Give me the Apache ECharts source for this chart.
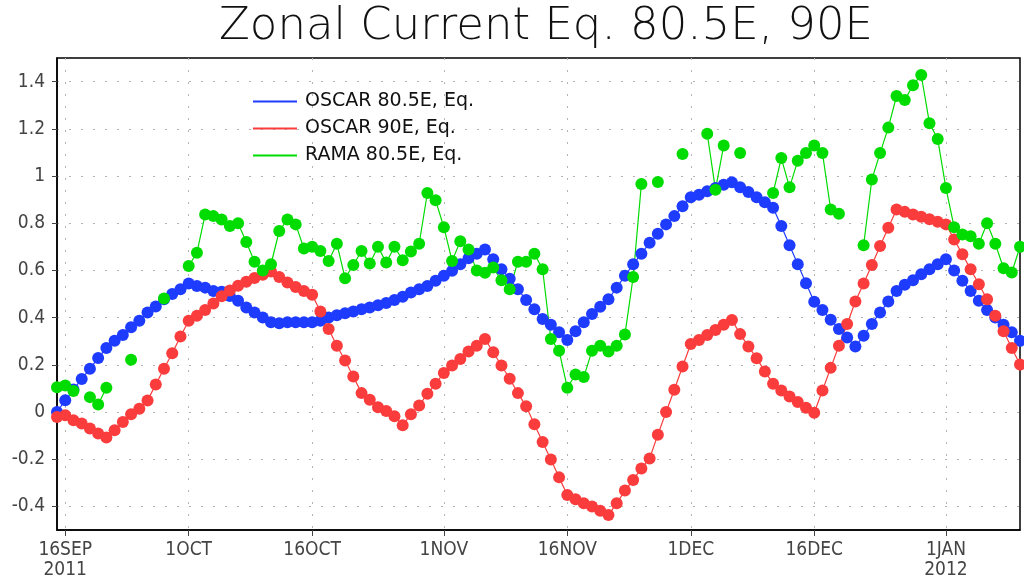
<!DOCTYPE html>
<html>
<head>
<meta charset="utf-8">
<script src="https://cdn.jsdelivr.net/npm/echarts@6/dist/echarts.min.js"></script>
<style>html,body{margin:0;padding:0;background:#fff}#c{width:1024px;height:580px}</style>
</head>
<body>
<div id="c"></div>
<script>
// Daily values, 15 SEP 2011 .. 10 JAN 2012 (118 days)
const startDate = [2011, 8, 15];
const nDays = 118;
const seriesNames = ['OSCAR 80.5E, Eq.', 'OSCAR 90E, Eq.', 'RAMA 80.5E, Eq.'];
const oscar805 = [
 0.0,0.05,0.095,0.14,0.183,0.229,0.271,0.302,0.326,0.359,
 0.387,0.422,0.447,0.478,0.50,0.52,0.544,0.534,0.527,0.513,
 0.51,0.492,0.471,0.443,0.422,0.40,0.38,0.376,0.38,0.38,
 0.38,0.38,0.387,0.40,0.41,0.418,0.426,0.435,0.443,0.452,
 0.462,0.475,0.488,0.506,0.52,0.534,0.556,0.577,0.598,0.626,
 0.651,0.671,0.689,0.647,0.605,0.565,0.52,0.475,0.435,0.394,
 0.37,0.338,0.305,0.342,0.38,0.415,0.446,0.478,0.527,0.577,
 0.626,0.671,0.717,0.755,0.795,0.83,0.872,0.91,0.921,0.935,
 0.949,0.963,0.973,0.952,0.932,0.91,0.889,0.865,0.788,0.707,
 0.626,0.546,0.467,0.432,0.391,0.352,0.316,0.278,0.323,0.373,
 0.422,0.468,0.513,0.539,0.558,0.584,0.605,0.626,0.647,0.60,
 0.556,0.513,0.471,0.432,0.40,0.37,0.338,0.302
];
const oscar90 = [
 -0.021,-0.014,-0.035,-0.049,-0.07,-0.091,-0.108,-0.077,-0.042,-0.01,
 0.014,0.049,0.117,0.183,0.249,0.32,0.387,0.408,0.432,0.46,
 0.49,0.515,0.535,0.552,0.568,0.582,0.595,0.572,0.549,0.53,
 0.513,0.497,0.426,0.352,0.281,0.218,0.15,0.08,0.052,0.02,
 0.004,-0.018,-0.056,-0.01,0.028,0.077,0.12,0.165,0.197,0.225,
 0.256,0.281,0.309,0.253,0.197,0.141,0.08,0.024,-0.052,-0.127,
 -0.201,-0.277,-0.352,-0.37,-0.387,-0.40,-0.418,-0.436,-0.387,-0.333,
 -0.288,-0.239,-0.197,-0.096,0.0,0.094,0.193,0.288,0.305,0.326,
 0.347,0.37,0.39,0.33,0.278,0.228,0.172,0.12,0.091,0.066,
 0.042,0.018,-0.003,0.091,0.187,0.281,0.373,0.468,0.544,0.623,
 0.703,0.781,0.858,0.848,0.837,0.827,0.817,0.806,0.795,0.731,
 0.668,0.605,0.541,0.478,0.408,0.342,0.271,0.201
];
const rama805 = [
 0.105,0.112,0.089,null,0.063,0.032,0.103,null,null,0.221,
 null,null,null,0.481,null,null,0.619,0.675,0.837,0.83,
 0.816,0.788,0.80,0.72,0.637,0.60,0.626,0.767,0.816,0.795,
 0.693,0.70,0.682,0.64,0.713,0.567,0.623,0.682,0.629,0.70,
 0.633,0.70,0.643,0.68,0.713,0.928,0.897,0.783,0.64,0.724,
 0.689,0.60,0.59,0.612,0.558,0.52,0.637,0.637,0.671,0.605,
 0.309,0.26,0.103,0.159,0.148,0.26,0.281,0.256,0.281,0.328,
 0.572,0.966,null,0.975,null,null,1.093,null,null,1.179,
 0.942,1.129,null,1.097,null,null,null,0.928,1.076,0.952,
 1.065,1.097,1.129,1.097,0.858,0.84,null,null,0.707,0.985,
 1.097,1.205,1.339,1.322,1.385,1.428,1.224,1.157,0.949,0.783,
 0.752,0.745,0.713,0.80,0.713,0.609,0.591,0.70
];
const xTickIdx = [1, 16, 31, 47, 62, 77, 92, 108];
const xTickText = ['16SEP\n2011','1OCT','16OCT','1NOV','16NOV','1DEC','16DEC','1JAN\n2012'];
const yTicks = [-0.4,-0.2,0,0.2,0.4,0.6,0.8,1,1.2,1.4];

const categories = [];
for (let i = 0; i < nDays; i++) {
  const d = new Date(Date.UTC(startDate[0], startDate[1], startDate[2] + i));
  categories.push(d.toISOString().slice(0,10));
}
const isTick = (idx) => xTickIdx.indexOf(idx) >= 0;
const colors = ['#1e3cff', '#fa3c3c', '#00dc00'];
const labelFont = "'Liberation Sans Narrow','DejaVu Sans Condensed',sans-serif";
const gridLine = {show: true, lineStyle: {color: '#b4b4b4', width: 1, type: [2, 10]}};

const chart = echarts.init(document.getElementById('c'), null, {renderer: 'canvas'});
const mk = (name, data, color) => ({
  name: name, type: 'line', data: data,
  symbol: 'circle', symbolSize: 12, showAllSymbol: true,
  connectNulls: false,
  lineStyle: {color: color, width: 1.2},
  itemStyle: {color: color, borderWidth: 0},
  emphasis: {disabled: true}
});
chart.setOption({
  animation: false,
  backgroundColor: '#fff',
  title: {
    text: 'Zonal Current Eq. 80.5E, 90E',
    left: 541, top: 0, textAlign: 'center',
    textStyle: {fontFamily: "'DejaVu Sans',sans-serif", fontWeight: 200, fontSize: 45, color: '#111'}
  },
  legend: {
    orient: 'vertical', left: 248, top: 86,
    itemWidth: 44, itemHeight: 2, itemGap: 6, icon: 'rect',
    data: seriesNames.map((n, i) => ({name: n, itemStyle: {color: colors[i]}})),
    textStyle: {fontFamily: "'DejaVu Sans',sans-serif", fontSize: 19, color: '#111', lineHeight: 21, padding: [0,0,0,3]}
  },
  grid: {left: 57, right: 4, top: 58, bottom: 50, show: true, borderColor: '#000', borderWidth: 1.5, backgroundColor: 'transparent'},
  xAxis: {
    type: 'category', data: categories, boundaryGap: false,
    axisLine: {onZero: false, lineStyle: {color: '#000', width: 1.5}},
    axisTick: {show: true, interval: (i) => isTick(i), length: 6, lineStyle: {color: '#444'}},
    axisLabel: {interval: (i) => isTick(i), margin: 10, color: '#444', fontFamily: labelFont, fontSize: 19, lineHeight: 20,
      formatter: (v, i) => { const k = xTickIdx.indexOf(i); return k >= 0 ? xTickText[k] : ''; }},
    splitLine: Object.assign({interval: (i) => isTick(i)}, gridLine)
  },
  yAxis: {
    type: 'value', min: -0.5, max: 1.5,
    axisLine: {show: true, onZero: false, lineStyle: {color: '#000', width: 1.5}},
    axisTick: {show: true, customValues: yTicks, length: 5, lineStyle: {color: '#444'}},
    axisLabel: {customValues: yTicks, margin: 12, color: '#444', fontFamily: labelFont, fontSize: 19,
      formatter: (v) => String(Math.round(v * 10) / 10)},
    splitLine: gridLine
  },
  series: [
    mk(seriesNames[0], oscar805, colors[0]),
    mk(seriesNames[1], oscar90, colors[1]),
    mk(seriesNames[2], rama805, colors[2])
  ]
});
</script>
</body>
</html>
